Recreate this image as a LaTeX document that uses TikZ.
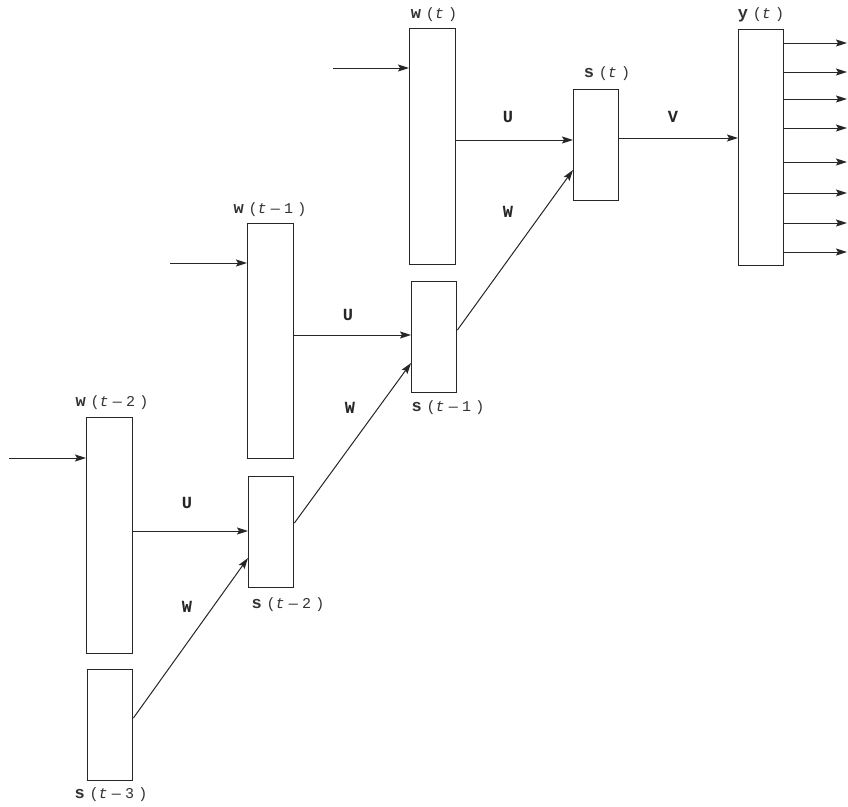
\documentclass[tikz,border=0pt]{standalone}
\usepackage{fontspec}
\usetikzlibrary{arrows.meta}
\newfontfamily\lblfont[LetterSpace=28]{Liberation Mono}
\newfontfamily\wtfont{Liberation Mono}
\newcommand{\lb}[2]{{\fontsize{17}{18}\selectfont\textbf{#1}}(\textit{t}#2)}
\tikzset{
  box/.style={draw=black!85, line width=1.4pt, fill=white, inner sep=0pt, anchor=north west},
  sbox/.style={box, minimum width=45pt, minimum height=111pt},
  wbox/.style={box, minimum width=46pt, minimum height=236pt},
  arr/.style={draw=black!85, line width=1pt, -{Stealth[length=11pt,width=7pt,inset=2pt]}},
  lbl/.style={font=\lblfont\fontsize{15}{18}\selectfont, inner sep=0pt, text=black!80},
  wt/.style={font=\wtfont\fontsize{17}{18}\selectfont\bfseries, inner sep=0pt, text=black!85}
}
\begin{document}
\begin{tikzpicture}[x=1pt,y=-1pt]
\useasboundingbox[fill=white] (0,0) rectangle (848,806);
% boxes
\node[wbox] (w2) at (86,417) {};
\node[sbox] (s3) at (87,669) {};
\node[wbox, minimum height=235pt] (w1) at (247,223) {};
\node[sbox] (s2) at (248,476) {};
\node[wbox] (w0) at (409,28) {};
\node[sbox] (s1) at (411,281) {};
\node[sbox] (s0) at (573,89) {};
\node[wbox, minimum width=45pt] (y) at (738,29) {};
% labels
\node[lbl] (lw2) at (112,403) {\lb{w}{—2}};
\node[lbl] (ls3) at (111,795) {\lb{s}{—3}};
\node[lbl] (lw1) at (270,210) {\lb{w}{—1}};
\node[lbl] (ls2) at (288,605) {\lb{s}{—2}};
\node[lbl] (lw0) at (434,15) {\lb{w}{}};
\node[lbl] (ls1) at (448,408) {\lb{s}{—1}};
\node[lbl] (ls0) at (607,74) {\lb{s}{}};
\node[lbl] (ly) at (761,15) {\lb{y}{}};
% weight labels
\node[wt] (u2) at (187,503) {U};
\node[wt] (ww2) at (187,607) {W};
\node[wt] (u1) at (348,315) {U};
\node[wt] (ww1) at (350,408) {W};
\node[wt] (u0) at (508,117) {U};
\node[wt] (ww0) at (508,212) {W};
\node[wt] (v) at (673,117) {V};
% inputs
\coordinate (in2) at (9,458);
\coordinate (in1) at (170,263);
\coordinate (in0) at (333,68);
\draw[arr] (in2) -- (w2.west |- in2);
\draw[arr] (in1) -- (w1.west |- in1);
\draw[arr] (in0) -- (w0.west |- in0);
% U connections
\draw[arr] (w2.east |- 0,531) -- (s2.west |- 0,531);
\draw[arr] (w1.east |- 0,335) -- (s1.west |- 0,335);
\draw[arr] (w0.east |- 0,140) -- (s0.west |- 0,140);
% W connections
\draw[arr] (s3.east |- 0,718) -- (s2.west |- 0,558);
\draw[arr] (s2.east |- 0,523) -- (s1.west |- 0,363);
\draw[arr] (s1.east |- 0,330) -- (s0.west |- 0,170);
% V
\draw[arr] (s0.east |- 0,138) -- (y.west |- 0,138);
% outputs
\foreach \yy [count=\i] in {43,72,99,128,162,193,223,252}{
  \coordinate (o\i) at (847,\yy);
  \draw[arr] (y.east |- o\i) -- (o\i);
}
\end{tikzpicture}
\end{document}
